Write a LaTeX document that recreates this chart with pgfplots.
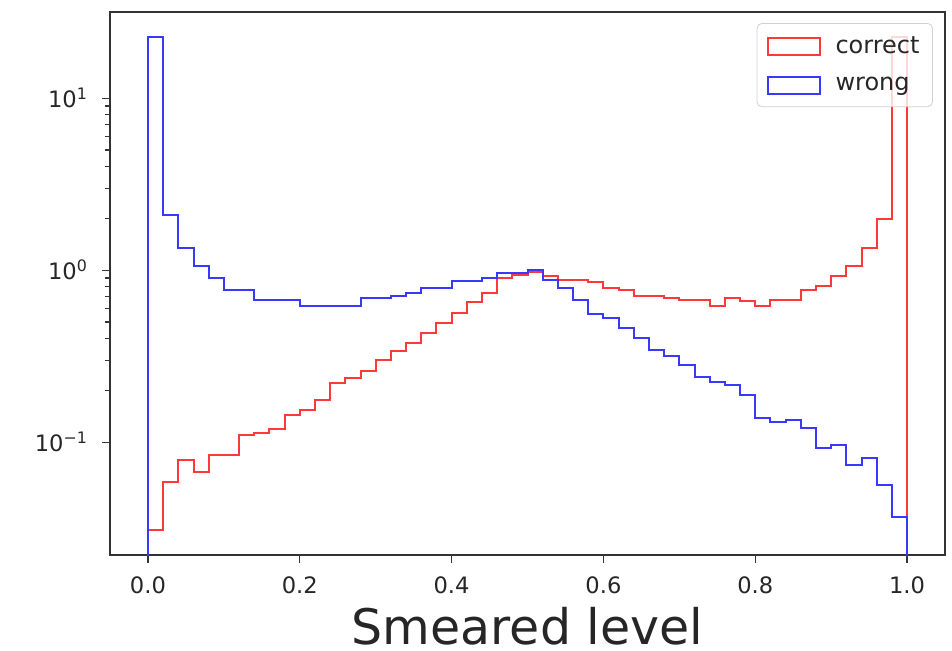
\documentclass[border=0pt]{standalone}
\usepackage{pgfplots}
\pgfplotsset{compat=1.18}
\usepackage{fontspec}
\setmainfont{DejaVu Sans}
\definecolor{cred}{rgb}{1,0.22,0.22}
\definecolor{cblue}{rgb}{0.22,0.22,1}
\definecolor{spine}{rgb}{0.2,0.2,0.2}
\begin{document}
\begin{tikzpicture}
\begin{axis}[
  scale only axis,
  width=417.5pt, height=271.5pt,
  ymode=log,
  xmin=-0.05, xmax=1.05,
  ymin=0.0221, ymax=31.7,
  axis line style={spine, line width=0.6pt},
  tick align=outside,
  tick style={spine, line width=0.6pt},
  major tick length=4pt,
  minor tick length=2.5pt,
  xtick={0,0.2,0.4,0.6,0.8,1.0},
  xticklabels={0.0,0.2,0.4,0.6,0.8,1.0},
  ytick={0.1,1,10},
  yticklabels={{10\textsuperscript{−1}},{10\textsuperscript{0}},{10\textsuperscript{1}}},
  xtick pos=bottom, ytick pos=left,
  tick label style={font=\fontsize{11.3}{13}\selectfont, text=black!85},
  xticklabel style={yshift=-3.5pt},
  yticklabel style={xshift=-3.5pt},
  xlabel={Smeared level},
  xlabel style={at={(axis description cs:0.5,0)}, anchor=base, inner sep=0pt, yshift=-44.5pt, font=\fontsize{24.5}{28}\selectfont, text=black!85},
  legend style={at={(axis description cs:0.9856,0.9797)}, anchor=north east,
    draw=black!18, rounded corners=2.5pt, fill=white, fill opacity=0.8, text opacity=1,
    font=\fontsize{12}{14}\selectfont, text=black!85,
    row sep=7.5pt, inner xsep=5pt, inner ysep=5pt,
    nodes={inner sep=1.5pt}},
  legend cell align=left,
  legend image code/.code={\draw[#1, line width=1.1pt, sharp corners] (0pt,-4.25pt) rectangle (26pt,4.25pt); \path (32pt,0pt);},
]
\addplot[cred, line width=1pt, const plot mark left, forget plot] coordinates {
(0,0.001)
(0.00,0.031) (0.02,0.0585) (0.04,0.079) (0.06,0.0668) (0.08,0.0845)
(0.10,0.0845) (0.12,0.110) (0.14,0.1137) (0.16,0.119) (0.18,0.144)
(0.20,0.154) (0.22,0.176) (0.24,0.221) (0.26,0.237) (0.28,0.261)
(0.30,0.299) (0.32,0.34) (0.34,0.377) (0.36,0.431) (0.38,0.492)
(0.40,0.562) (0.42,0.656) (0.44,0.733) (0.46,0.903) (0.48,0.936)
(0.50,0.97) (0.52,0.923) (0.54,0.875) (0.56,0.875) (0.58,0.849)
(0.60,0.79) (0.62,0.766) (0.64,0.71) (0.66,0.708) (0.68,0.686)
(0.70,0.671) (0.72,0.671) (0.74,0.622) (0.76,0.686) (0.78,0.665)
(0.80,0.622) (0.82,0.671) (0.84,0.671) (0.86,0.766) (0.88,0.811)
(0.90,0.927) (0.92,1.06) (0.94,1.35) (0.96,1.99) (0.98,22.6)
(1.00,22.6) (1.00,0.001)
};
\addlegendimage{cred}
\addlegendentry{correct}
\addplot[cblue, line width=1pt, const plot mark left, forget plot] coordinates {
(0,0.001)
(0.00,22.8) (0.02,2.08) (0.04,1.35) (0.06,1.06) (0.08,0.895)
(0.10,0.766) (0.12,0.766) (0.14,0.671) (0.16,0.671) (0.18,0.671)
(0.20,0.622) (0.22,0.622) (0.24,0.622) (0.26,0.622) (0.28,0.689)
(0.30,0.689) (0.32,0.71) (0.34,0.736) (0.36,0.79) (0.38,0.79)
(0.40,0.868) (0.42,0.868) (0.44,0.895) (0.46,0.969) (0.48,0.969)
(0.50,1.0) (0.52,0.872) (0.54,0.784) (0.56,0.671) (0.58,0.559)
(0.60,0.53) (0.62,0.462) (0.64,0.403) (0.66,0.345) (0.68,0.318)
(0.70,0.28) (0.72,0.239) (0.74,0.223) (0.76,0.215) (0.78,0.187)
(0.80,0.139) (0.82,0.131) (0.84,0.135) (0.86,0.121) (0.88,0.093)
(0.90,0.096) (0.92,0.074) (0.94,0.0815) (0.96,0.0567) (0.98,0.0367)
(1.00,0.0367) (1.00,0.001)
};
\addlegendimage{cblue}
\addlegendentry{wrong}
\end{axis}
\pgfresetboundingbox
\path (current axis.south west) ++(-55pt,-47.5pt) coordinate (bbA);
\path (current axis.north east) ++(3.5pt,6pt) coordinate (bbB);
\useasboundingbox (bbA) rectangle (bbB);
\end{tikzpicture}
\end{document}
